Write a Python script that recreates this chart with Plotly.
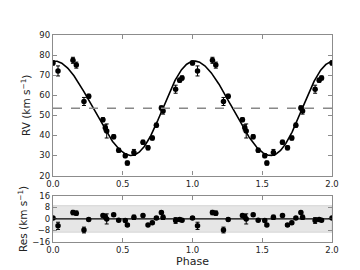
import numpy as np
import plotly.graph_objects as go

# folded radial velocities (one cycle, repeated to phase 2)
phase = [0.000, 0.036, 0.143, 0.167, 0.222, 0.256, 0.358, 0.375, 0.385, 0.435, 0.471,
         0.518, 0.533, 0.580, 0.645, 0.681, 0.712, 0.741, 0.777, 0.789, 0.879, 0.908, 0.925]
rv = [76.1, 72.1, 77.4, 75.0, 56.9, 59.5, 47.8, 43.8, 42.2, 39.3, 32.6,
      29.9, 26.2, 31.5, 36.6, 33.8, 38.7, 45.1, 53.7, 52.1, 63.0, 67.5, 68.6]
rv_err = [1.0, 2.5, 1.5, 1.5, 2.0, 1.0, 1.0, 1.5, 3.5, 1.0, 1.0,
          1.0, 1.0, 1.5, 1.0, 1.0, 1.0, 1.0, 1.0, 1.5, 2.0, 1.0, 1.0]
res = [0.7, -4.8, 4.4, 4.0, -7.7, -0.4, 2.3, 1.5, 0.0, 2.9, -0.9,
       -1.1, -4.2, 1.1, 2.3, -4.2, -2.6, 0.7, 4.4, 1.1, -1.1, -0.4, -0.9]

# orbital solution
gamma = 53.5      # systemic velocity (dashed line)
K = 23.5
ecc = 0.07
omega_deg = 270.0
t_peri = 0.787    # phase of periastron
res_band = 9.2    # shaded band in residual panel

x_ticks = [0.0, 0.5, 1.0, 1.5, 2.0]
rv_ticks = [20, 30, 40, 50, 60, 70, 80, 90]
res_ticks = [-16, -8, 0, 8, 16]


def kepler_rv(ph):
    M = 2 * np.pi * (ph - t_peri)
    E = M.copy()
    for _ in range(40):
        E = E - (E - ecc * np.sin(E) - M) / (1 - ecc * np.cos(E))
    nu = 2 * np.arctan2(np.sqrt(1 + ecc) * np.sin(E / 2), np.sqrt(1 - ecc) * np.cos(E / 2))
    w = np.radians(omega_deg)
    return gamma + K * (np.cos(nu + w) + ecc * np.cos(w))


ph = np.array(phase)
ph_all = np.concatenate([ph, ph + 1, ph + 2])
rv_all = np.tile(rv, 3)
err_all = np.tile(rv_err, 3)
res_all = np.tile(res, 3)

grid = np.linspace(0, 2, 600)

fig = go.Figure()
fig.add_trace(go.Scatter(x=grid, y=kepler_rv(grid), mode="lines",
                         line=dict(color="black", width=1.6), xaxis="x", yaxis="y"))
fig.add_trace(go.Scatter(x=ph_all, y=rv_all, mode="markers",
                         marker=dict(color="black", size=5.5),
                         error_y=dict(type="data", array=err_all, color="black", thickness=1, width=2),
                         xaxis="x", yaxis="y"))
fig.add_trace(go.Scatter(x=ph_all, y=res_all, mode="markers",
                         marker=dict(color="black", size=5.5),
                         error_y=dict(type="data", array=err_all, color="black", thickness=1, width=2),
                         xaxis="x2", yaxis="y2"))

# systemic velocity
fig.add_shape(type="line", xref="x domain", yref="y", x0=0, x1=1, y0=gamma, y1=gamma,
              line=dict(color="#888888", width=1.6, dash="dash"))
# residual band + zero line
fig.add_shape(type="rect", xref="x2 domain", yref="y2", x0=0, x1=1, y0=-res_band, y1=res_band,
              fillcolor="#e6e6e6", line=dict(color="#cfcfcf", width=0.8), layer="below")
fig.add_shape(type="line", xref="x2 domain", yref="y2", x0=0, x1=1, y0=0, y1=0,
              line=dict(color="black", width=1.2))

axis_style = dict(showline=True, linecolor="#8c8c8c", linewidth=1.2, mirror="ticks",
                  ticks="inside", ticklen=4, tickcolor="#8c8c8c", showgrid=False, zeroline=False,
                  tickfont=dict(family="DejaVu Sans", size=8.5, color="#222222"))

fig.update_layout(
    width=360, height=270,
    margin=dict(l=45, r=36, t=27, b=28),
    paper_bgcolor="white", plot_bgcolor="white",
    showlegend=False,
    font=dict(family="DejaVu Sans", color="#222222"),
    xaxis=dict(domain=[0, 1], range=[0, 2], anchor="y", tickvals=x_ticks, tickformat=".1f", **axis_style),
    yaxis=dict(domain=[0.321, 1], range=[20, 90], anchor="x", tickvals=rv_ticks,
               title=dict(text="RV (km s<sup>−1</sup>)", font=dict(size=10.5), standoff=6), **axis_style),
    xaxis2=dict(domain=[0, 1], range=[0, 2], anchor="y2", tickvals=x_ticks, tickformat=".1f",
                title=dict(text="Phase", font=dict(size=11), standoff=3), **axis_style),
    yaxis2=dict(domain=[0, 0.223], range=[-16, 16], anchor="x2", tickvals=res_ticks,
                title=dict(text="Res (km s<sup>−1</sup>)", font=dict(size=10.5), standoff=2), **axis_style),
)

fig.write_html("out.html")
